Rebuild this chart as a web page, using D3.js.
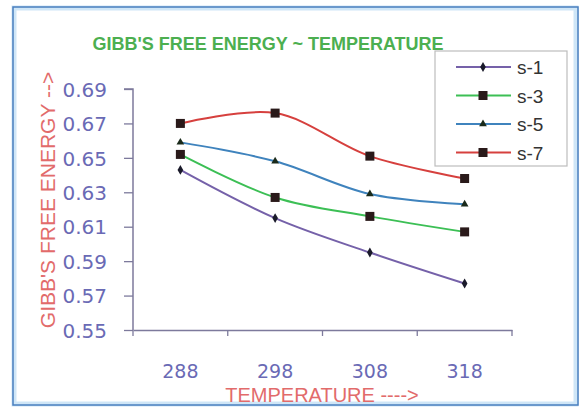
<!DOCTYPE html>
<html>
<head>
<meta charset="utf-8">
<script src="https://cdn.jsdelivr.net/npm/d3@7"></script>
<style>
  html, body { margin: 0; padding: 0; background: #ffffff; }
  svg { display: block; }
</style>
</head>
<body>
<svg id="chart" width="582" height="408"></svg>
<script>
// ---- data ----
const categories = ["288", "298", "308", "318"];
const seriesNames = ["s-1", "s-3", "s-5", "s-7"];
const s1 = [0.643, 0.615, 0.595, 0.577];
const s3 = [0.652, 0.627, 0.616, 0.607];
const s5 = [0.659, 0.648, 0.629, 0.623];
const s7 = [0.670, 0.676, 0.651, 0.638];
const yTicks = [0.55, 0.57, 0.59, 0.61, 0.63, 0.65, 0.67, 0.69];
const titleText = "GIBB'S FREE ENERGY ~  TEMPERATURE";
const yTitle = "GIBB'S FREE ENERGY -->";
const xTitle = "TEMPERATURE ---->";

const seriesValues = [s1, s3, s5, s7];
const colors = ["#7561a9", "#3cbf55", "#3f83bd", "#d6403e"];
const markers = ["diamond", "square", "triangle", "square"];

const svg = d3.select("#chart");

// frame
svg.append("rect").attr("x", 14).attr("y", 8).attr("width", 562).attr("height", 396)
  .attr("fill", "#ffffff").attr("stroke", "#cfe6f7").attr("stroke-width", 5);
svg.append("rect").attr("x", 13).attr("y", 7).attr("width", 565).attr("height", 398)
  .attr("fill", "none").attr("stroke", "#4a7fbf").attr("stroke-width", 1.5);

const x = d3.scaleBand().domain(categories).range([133, 512]);
const y = d3.scaleLinear().domain([0.55, 0.69]).range([330, 89]);
const cx = c => x(c) + x.bandwidth() / 2;

const axisColor = "#7d7a9c";
const tickColor = "#6a6ab5";

// y axis
const gy = svg.append("g").attr("transform", "translate(133,0)")
  .call(d3.axisLeft(y).tickValues(yTicks).tickFormat(d3.format(".2f")).tickSize(9).tickPadding(17));
gy.select(".domain").attr("stroke", axisColor).attr("stroke-width", 1.5).attr("d", `M-9,${y(0.69)}H0V${y(0.55)}`);
gy.selectAll(".tick line").attr("stroke", axisColor).attr("stroke-width", 1.3);
gy.selectAll(".tick text").attr("fill", tickColor).attr("font-family", "DejaVu Sans")
  .attr("font-size", 20).attr("dy", "0.36em");

// x axis
const gx = svg.append("g").attr("transform", "translate(0,330)")
  .call(d3.axisBottom(x).tickSize(0).tickPadding(0));
gx.select(".domain").attr("stroke", axisColor).attr("stroke-width", 1.5);
gx.selectAll(".tick text").attr("fill", tickColor).attr("font-family", "DejaVu Sans")
  .attr("font-size", 19).attr("y", 48).attr("dy", 0);
const bounds = categories.map(c => x(c)).concat([x.range()[1]]);
gx.selectAll(".bt").data(bounds).enter().append("line").attr("class", "bt")
  .attr("x1", d => d).attr("x2", d => d).attr("y1", 0).attr("y2", 6)
  .attr("stroke", axisColor).attr("stroke-width", 1.3);

// title
svg.append("text").attr("x", 268).attr("y", 50).attr("text-anchor", "middle")
  .attr("font-family", "Liberation Sans").attr("font-weight", "bold").attr("font-size", 18)
  .attr("fill", "#4caf50").text(titleText);

// axis titles
svg.append("text").attr("transform", "translate(55,200) rotate(-90)").attr("text-anchor", "middle")
  .attr("font-family", "Liberation Sans").attr("font-size", 21).attr("fill", "#e26b6b").text(yTitle);
svg.append("text").attr("x", 322).attr("y", 402).attr("text-anchor", "middle")
  .attr("font-family", "Liberation Sans").attr("font-size", 20).attr("fill", "#e26b6b").text(xTitle);

// lines
const line = d3.line().x((d, i) => cx(categories[i])).y(d => y(d)).curve(d3.curveCatmullRom.alpha(0.5));

function drawMarker(g, type, px, py) {
  if (type === "square") {
    g.append("rect").attr("x", px - 4.5).attr("y", py - 4.5).attr("width", 9).attr("height", 9).attr("fill", "#2a1a1a");
  } else if (type === "diamond") {
    g.append("path").attr("d", d3.symbol().type(d3.symbolDiamond).size(28)()).attr("transform", `translate(${px},${py})`).attr("fill", "#1a1a2a");
  } else {
    g.append("path").attr("d", d3.symbol().type(d3.symbolTriangle).size(26)()).attr("transform", `translate(${px},${py})`).attr("fill", "#1a2a1a");
  }
}

seriesValues.forEach((vals, si) => {
  const g = svg.append("g");
  g.append("path").attr("d", line(vals)).attr("fill", "none").attr("stroke", colors[si]).attr("stroke-width", 2);
  vals.forEach((v, i) => drawMarker(g, markers[si], cx(categories[i]), y(v)));
});

// legend
const lg = svg.append("g");
lg.append("rect").attr("x", 435).attr("y", 51).attr("width", 132).attr("height", 115)
  .attr("fill", "#ffffff").attr("stroke", "#bdbdbd").attr("stroke-width", 1.2);
seriesNames.forEach((n, i) => {
  const ly = 67 + i * 28.5;
  lg.append("line").attr("x1", 456).attr("x2", 511).attr("y1", ly).attr("y2", ly)
    .attr("stroke", colors[i]).attr("stroke-width", 2);
  drawMarker(lg, markers[i], 483, ly);
  lg.append("text").attr("x", 517).attr("y", ly + 7).attr("font-family", "Liberation Sans")
    .attr("font-size", 19).attr("fill", "#333333").text(n);
});
</script>
</body>
</html>
